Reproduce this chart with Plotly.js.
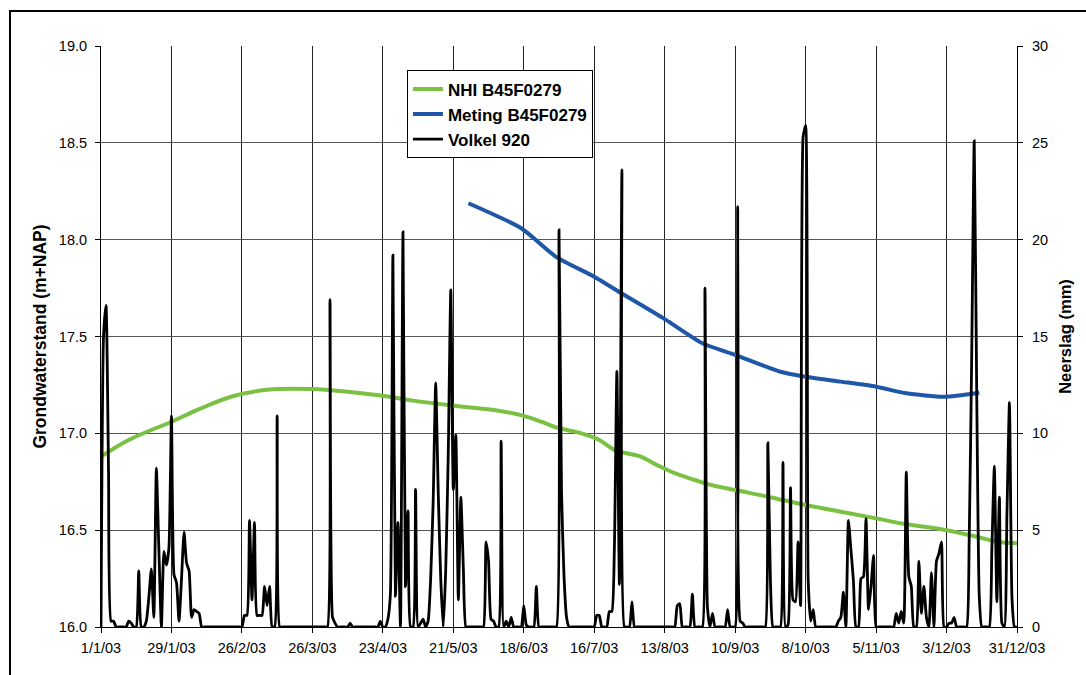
<!DOCTYPE html>
<html>
<head>
<meta charset="utf-8">
<script src="https://cdn.plot.ly/plotly-3.0.1.min.js"></script>
<style>
  html, body { margin: 0; padding: 0; background: #ffffff; overflow: hidden; }
  #chart { position: absolute; left: 0; top: 0; width: 1086px; height: 675px; }
  #frame { position: absolute; left: 9px; top: 10px; width: 1200px; height: 800px;
           border: 2px solid #000; pointer-events: none; box-sizing: border-box; }
</style>
</head>
<body>
<div id="chart"></div>
<div id="frame"></div>
<script>
// ---- Data ----
const tickDates = ['2003-01-01','2003-01-29','2003-02-26','2003-03-26','2003-04-23','2003-05-21','2003-06-18',
                   '2003-07-16','2003-08-13','2003-09-10','2003-10-08','2003-11-05','2003-12-03','2003-12-31'];
const tickLabels = ['1/1/03','29/1/03','26/2/03','26/3/03','23/4/03','21/5/03','18/6/03',
                    '16/7/03','13/8/03','10/9/03','8/10/03','5/11/03','3/12/03','31/12/03'];

const nhiDates = ['2003-01-01','2003-01-12','2003-01-29','2003-02-09','2003-02-22','2003-03-08',
                  '2003-03-26','2003-04-09','2003-04-23','2003-05-05','2003-05-21','2003-06-08',
                  '2003-06-18','2003-06-25','2003-07-01','2003-07-11','2003-07-18','2003-07-24','2003-07-29',
                  '2003-08-03','2003-08-10','2003-08-17','2003-08-25','2003-08-30','2003-09-10','2003-09-23',
                  '2003-10-08','2003-10-22','2003-11-05','2003-11-15','2003-12-03','2003-12-15','2003-12-23','2003-12-31'];
const nhiValues = [16.88,16.966,17.06,17.125,17.19,17.225,
                   17.229,17.215,17.194,17.169,17.143,17.117,
                   17.09,17.06,17.03,17.0,16.966,16.914,16.897,
                   16.882,16.836,16.794,16.759,16.738,16.707,16.673,
                   16.63,16.595,16.561,16.535,16.5,16.466,16.44,16.432];

const metingDates = ['2003-05-27','2003-06-17','2003-07-01','2003-07-16','2003-07-28','2003-08-13','2003-08-28',
                     '2003-09-10','2003-09-28','2003-10-08','2003-10-22','2003-11-05','2003-11-17','2003-12-02','2003-12-16'];
const metingValues = [18.188,18.059,17.91,17.809,17.714,17.59,17.465,
                      17.405,17.318,17.292,17.267,17.241,17.207,17.189,17.21];

// daily precipitation Volkel 920 (mm), 1 Jan 2003 .. 31 Dec 2003
const precipStart = '2003-01-01';
const precipValues = [
  0,15.0,16.6,8.0,0.3,0.3,0,0,0,0,
  0,0.3,0.2,0,0,2.9,0,0,0.3,1.5,
  3.0,0.5,8.2,4.0,0,3.9,3.2,4.1,10.9,2.7,
  2.3,0.3,2.5,4.9,3.3,2.9,0.5,0.9,0.8,0.7,
  0,0,0,0,0,0,0,0,0,0,
  0,0,0,0,0,0,0,0.6,0.6,5.5,
  1.4,5.4,0.6,0.6,0.6,2.1,1.1,2.1,0,0,
  10.9,0,0,0,0,0,0,0,0,0,
  0,0,0,0,0,0,0,0,0,0,
  0,16.9,0.5,0.2,0,0,0,0,0,0.2,
  0,0,0,0,0,0,0,0,0,0,
  0,0.3,0,0,0.4,1.7,19.2,1.6,5.4,0,
  20.4,2.1,6.0,0,0,7.1,0,0.2,0.4,0,
  0.3,2.5,6.5,12.6,7.0,2.5,0,3.0,9.0,17.4,
  7.1,9.9,1.4,6.7,3.0,0,0,0,0,0,
  0,0,0,4.4,3.4,0.4,0.3,0,0,9.6,
  0,0.3,0,0.5,0,0,0,0,1.1,0.1,
  0,0,0,2.1,0,0,0,0,0,0,
  0,0,20.5,7.0,2.6,0.5,0,0,0,0,
  0,0,0,0,0,0,0,0.6,0.6,0,
  0,0,0.8,0.8,4.0,13.2,2.2,23.6,0,0,
  0,1.3,0,0,0,0,0,0,0,0,
  0,0,0,0,0,0,0,0,0,1.1,
  1.2,0,0,0,0,1.7,0,0,0,0,
  17.5,1.0,0,0.7,0,0,0,0,0,0.9,
  0,0,0,21.7,0.3,0.2,0,0,0,0,
  0,0,0,0,0,9.5,2.5,0,0,0,
  0,8.5,0,0.1,7.2,1.4,1.3,4.4,1.1,25.3,
  25.9,2.5,0.3,0.9,0,0,0,0,0,0,
  0,0,0,0.3,0.5,1.8,0,5.5,4.0,2.4,
  0,0,2.5,2.6,5.6,0.9,2.1,3.7,0,0,
  0,0,0,0,0,0,0.7,0.2,0.8,0.2,
  8.0,2.6,2.1,0,0,3.4,0.7,2.1,0.5,0,
  2.8,0,3.4,3.8,4.4,0,0,0.2,0.2,0.5,
  0,0,0,0,0,4.5,14.0,25.1,12.0,1.6,
  0,0,0,0,4.0,8.3,1.3,6.7,0.2,0,
  5.8,11.6,1.5,0,0
];

// build daily dates for the precipitation series
const precipDates = [];
(function () {
  const t0 = Date.parse(precipStart + 'T00:00:00Z');
  for (let i = 0; i < precipValues.length; i++) {
    precipDates.push(new Date(t0 + i * 86400000).toISOString().slice(0, 10));
  }
})();

// ---- Chart ----
const FONT = 'Liberation Sans, Arial, sans-serif';

const traces = [
  { x: nhiDates, y: nhiValues, name: '<b>NHI B45F0279</b>', type: 'scatter', mode: 'lines',
    line: { color: '#7ac143', width: 4, shape: 'spline', smoothing: 1 } },
  { x: metingDates, y: metingValues, name: '<b>Meting B45F0279</b>', type: 'scatter', mode: 'lines',
    line: { color: '#1f57a8', width: 4, shape: 'spline', smoothing: 0.6 } },
  { x: precipDates, y: precipValues, name: '<b>Volkel 920</b>', type: 'scatter', mode: 'lines', yaxis: 'y2',
    line: { color: '#000000', width: 2.8, shape: 'spline', smoothing: 0.5 } }
];

const layout = {
  width: 1086, height: 675,
  margin: { l: 101, r: 69, t: 46, b: 48, pad: 0 },
  paper_bgcolor: 'rgba(0,0,0,0)', plot_bgcolor: '#ffffff',
  font: { family: FONT, size: 14.5, color: '#000' },
  showlegend: true,
  legend: {
    x: 0.334, y: 0.958, xanchor: 'left', yanchor: 'top',
    bgcolor: '#ffffff', bordercolor: '#000', borderwidth: 1,
    font: { family: FONT, size: 17, color: '#000' },
    tracegroupgap: 0, itemwidth: 30
  },
  xaxis: {
    type: 'date', range: ['2003-01-01', '2003-12-31'],
    tickmode: 'array', tickvals: tickDates, ticktext: tickLabels,
    ticks: 'outside', ticklen: 5, tickcolor: '#000', tickwidth: 1, ticklabelstandoff: 3,
    showline: true, linecolor: '#000', linewidth: 1,
    showgrid: true, gridcolor: '#222', gridwidth: 1, zeroline: false,
    tickfont: { family: FONT, size: 14.5, color: '#000' }, fixedrange: true
  },
  yaxis: {
    range: [16, 19.0001], tickmode: 'linear', tick0: 16, dtick: 0.5, tickformat: '.1f',
    ticks: 'outside', ticklen: 5, tickcolor: '#000', ticklabelstandoff: 5,
    showline: true, linecolor: '#000', linewidth: 1,
    showgrid: true, gridcolor: '#555', gridwidth: 1, zeroline: false,
    tickfont: { family: FONT, size: 14.5, color: '#000' },
    title: { text: '<b>Grondwaterstand (m+NAP)</b>', font: { family: FONT, size: 17.5, color: '#000' }, standoff: 7 }
  },
  yaxis2: {
    overlaying: 'y', side: 'right', range: [0, 30.0001], tickmode: 'linear', tick0: 0, dtick: 5,
    ticks: 'outside', ticklen: 5, tickcolor: '#000', ticklabelstandoff: 6,
    showline: true, linecolor: '#000', linewidth: 1,
    showgrid: false, zeroline: false,
    tickfont: { family: FONT, size: 14.5, color: '#000' },
    title: { text: '<b>Neerslag (mm)</b>', font: { family: FONT, size: 16.5, color: '#000' }, standoff: 12 }
  }
};

Plotly.newPlot('chart', traces, layout, { displayModeBar: false, staticPlot: true });
</script>
</body>
</html>
